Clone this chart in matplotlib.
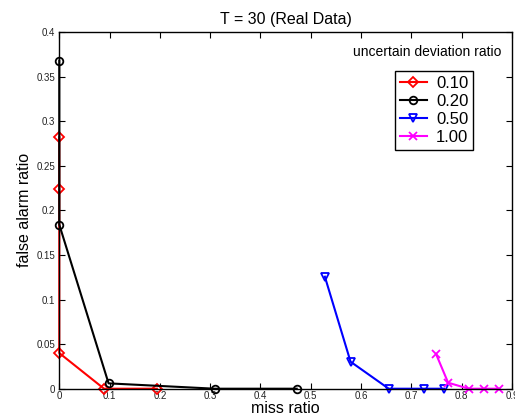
import matplotlib
matplotlib.use("Agg")
import matplotlib.pyplot as plt

plt.rcParams['font.family'] = ['Liberation Sans', 'DejaVu Sans']

labels = ["0.10", "0.20", "0.50", "1.00"]
x_010 = [0, 0, 0, 0.089, 0.194]
y_010 = [0.282, 0.224, 0.040, 0.0, 0.0]
x_020 = [0, 0, 0.098, 0.309, 0.472]
y_020 = [0.368, 0.184, 0.006, 0.0, 0.0]
x_050 = [0.528, 0.579, 0.655, 0.726, 0.765]
y_050 = [0.1256, 0.0303, 0.0, 0.0, 0.0]
x_100 = [0.749, 0.773, 0.814, 0.845, 0.875]
y_100 = [0.0389, 0.0067, 0.0, 0.0, 0.0]
xticks = [0, 0.1, 0.2, 0.3, 0.4, 0.5, 0.6, 0.7, 0.8, 0.9]
yticks = [0, 0.05, 0.1, 0.15, 0.2, 0.25, 0.3, 0.35, 0.4]

fig = plt.figure(figsize=(5.15, 4.2), dpi=100)
ax = fig.add_axes([0.1151, 0.0745, 0.9942 - 0.1151, 0.9238 - 0.0745])

series = [
    (x_010, y_010, 'red', 'D', 'none'),
    (x_020, y_020, 'black', 'o', 'none'),
    (x_050, y_050, 'blue', 'v', 'none'),
    (x_100, y_100, 'magenta', 'x', 'magenta'),
]
for (xs, ys, c, m, fc), lab in zip(series, labels):
    ms = 5.5 if m != 'D' else 4.8
    ax.plot(xs, ys, color=c, marker=m, markerfacecolor=fc, markeredgecolor=c,
            markersize=ms, markeredgewidth=1.3, lw=1.5, label=lab, clip_on=False)

ax.set_xlim(0, 0.9)
ax.set_ylim(0, 0.4)
ax.set_xticks(xticks)
ax.set_yticks(yticks)
ax.set_xticklabels([f"{t:g}" for t in xticks])
ax.set_yticklabels([f"{t:g}" for t in yticks])
ax.tick_params(direction='in', top=True, right=True, labelsize=7, length=4, width=0.8, pad=3,
               labelcolor='#222222')
ax.tick_params(axis='x', pad=2)
for s in ax.spines.values():
    s.set_linewidth(1.0)

ax.set_title("T = 30 (Real Data)", fontsize=11.5, pad=6)
ax.set_xlabel("miss ratio", fontsize=11.5, labelpad=0)
ax.set_ylabel("false alarm ratio", fontsize=11.5, labelpad=3)

ax.text(0.977, 0.944, "uncertain deviation ratio", transform=ax.transAxes,
        ha='right', va='center', fontsize=10)

leg = ax.legend(loc='upper right', bbox_to_anchor=(0.9145, 0.8915), fontsize=12,
                frameon=True, fancybox=False, edgecolor='black', framealpha=1,
                borderpad=0.3, labelspacing=0.18, handlelength=1.6, handletextpad=0.55,
                borderaxespad=0)
leg.get_frame().set_linewidth(1.0)

fig.savefig("out.png", dpi=100)
